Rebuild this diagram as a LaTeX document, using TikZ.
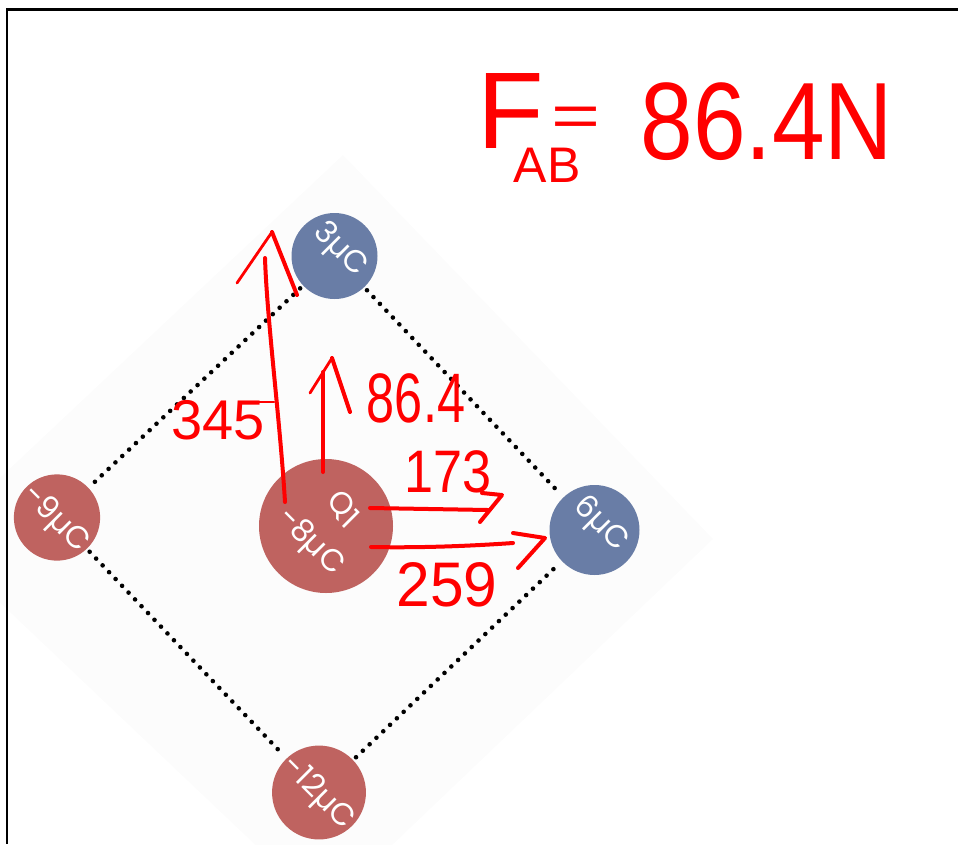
\documentclass[tikz,border=0pt]{standalone}
\usepackage{fontspec}
\setmainfont{Liberation Sans}
\newfontfamily\labfont{Poppins}
\newfontfamily\handfont{Liberation Sans}
\definecolor{cred}{RGB}{191,99,96}
\definecolor{cblue}{RGB}{105,125,166}
\definecolor{bgdiamond}{RGB}{252,252,252}
\newcommand{\hsz}[1]{\handfont\fontsize{#1}{#1}\selectfont}
\newcommand{\lift}[2]{\raisebox{#1}[\height][\depth]{#2}}
\begin{document}
\begin{tikzpicture}[x=1pt,y=-1pt,
  charge/.style={circle, inner sep=0pt, text=white, rotate=-45,
    font=\labfont\fontsize{31}{37}\selectfont},
  dotline/.style={line width=4.6pt, line cap=round, dash pattern=on 0pt off 9.4pt,
    shorten >=4pt, shorten <=4pt},
  redink/.style={draw=red, line width=4pt, line cap=round, line join=round},
  thinink/.style={draw=red, line width=2.8pt, line cap=round, line join=round},
  hand/.style={text=red, inner sep=0pt}
]
\useasboundingbox (0,0) rectangle (958,844);
\begin{scope}
  \clip (0,0) rectangle (958,844);
  \fill[bgdiamond] (343,155) -- (713,539) -- (324,910) -- (-66,540) -- cycle;
\end{scope}
\draw[line width=2.5pt] (958,9.5) -- (7,9.5) -- (7,844);

% charges
\node[charge, fill=cblue, minimum size=86pt] (qtop) at (334.5,256) {\lift{8pt}{3µC}};
\node[charge, fill=cblue, minimum size=90pt] (qright) at (594.5,530) {\lift{8pt}{6µC}};
\node[charge, fill=cred, minimum size=86pt] (qleft) at (57,517.5) {\lift{-3pt}{-9µC}};
\node[charge, fill=cred, minimum size=91pt] (qbottom) at (319,792.5) {\lift{-2pt}{-12µC}};
\node[charge, fill=cred, minimum size=134pt, align=center] (q1) at (326,526)
  {Q\raisebox{-0.3ex}{1}\\[10pt]-8µC};

% dotted sides
\draw[dotline] (qtop) -- (qright);
\draw[dotline] (qtop) -- (qleft);
\draw[dotline] (qleft) -- (qbottom);
\draw[dotline] (qbottom) -- (qright);

% red annotations
\coordinate (a1s) at (285,502);
\coordinate (a1e) at (265,258);
\draw[redink] (a1s) .. controls (280,420) and (267,320) .. (a1e);
\draw[thinink] (237,283) -- (272,232);
\draw[redink] (272,232) -- (297,295);
\draw[thinink] (256,402) -- (274,402);
\node[hand, font=\hsz{56}] (l345) at (218,420) {345};

\coordinate (a2s) at (323,472);
\coordinate (a2e) at (323,372);
\draw[redink] (a2s) -- (a2e);
\draw[thinink] (310,393) -- (332,358);
\draw[redink] (332,358) -- (350,412);
\node[hand, font=\hsz{70}] (l864) at (416,398) {\scalebox{0.72}[1]{86.4}};

\coordinate (a3s) at (370,508);
\coordinate (a3e) at (488,510);
\draw[redink] (a3s) -- (a3e);
\draw[redink] (482,493) -- (502,495) -- (480,522);
\node[hand, font=\hsz{60}] (l173) at (448,472) {\scalebox{0.87}[1]{173}};

\coordinate (a4s) at (371,547);
\coordinate (a4e) at (513,543);
\draw[redink] (a4s) .. controls (420,548) and (470,546) .. (a4e);
\draw[redink] (513,533) -- (545,538) -- (518,568);
\node[hand, font=\hsz{63}] (l259) at (447,585) {\scalebox{0.96}[1]{259}};

% F_AB = 86.4N
\node[hand, font=\hsz{109}] (tF) at (511,111) {F};
\node[hand, font=\hsz{50}] (tAB) at (547,165) {AB};
\node[hand, font=\hsz{60}] (teq) at (576,122) {\scalebox{1.4}[1]{=}};
\node[hand, font=\hsz{110}] (tval) at (767,122) {\scalebox{0.86}[1]{86.4N}};
\end{tikzpicture}
\end{document}
